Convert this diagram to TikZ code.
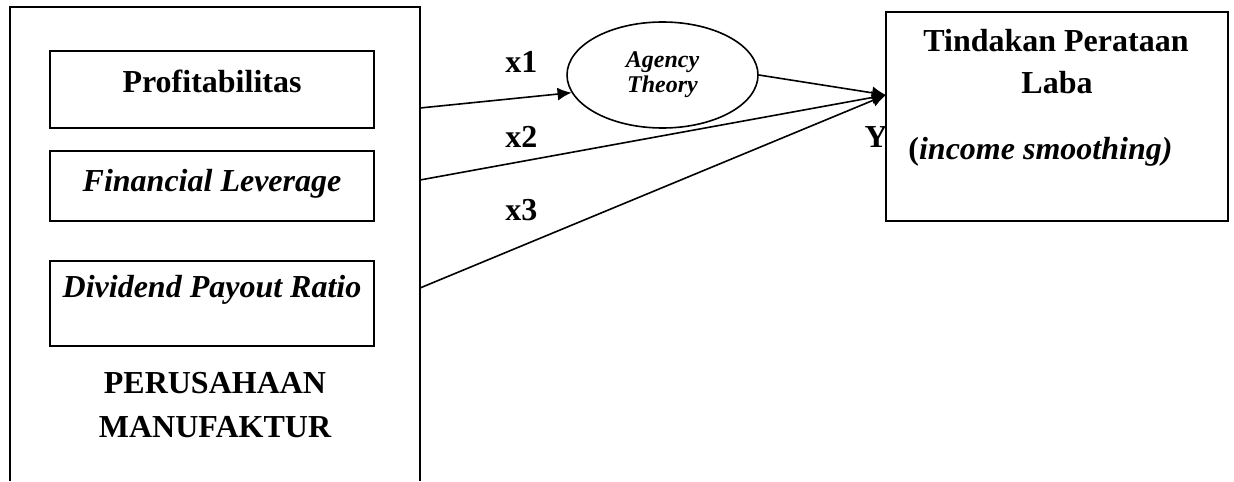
\documentclass[tikz,border=0pt]{standalone}
\usepackage{fontspec}
\setmainfont{Liberation Serif}
\usetikzlibrary{arrows.meta,shapes.geometric}

\begin{document}
\begin{tikzpicture}[x=.5pt,y=-.5pt,
 font=\fontsize{16}{22}\selectfont\bfseries,
 varbox/.style={draw,line width=1pt,minimum width=162pt,inner sep=2pt,text height=12pt},
 txt/.style={inner sep=0pt,anchor=base},
 lbl/.style={inner sep=0pt,anchor=base west},
 arr/.style={-{Latex[length=7pt,width=6.5pt]},line width=.8pt}]
\useasboundingbox (0,0) rectangle (1234,481);
% company frame, open at the bottom
\draw[line width=1pt] (10,481) -- (10,7) -- (420,7) -- (420,481);
\node[varbox,minimum height=38.5pt,text depth=9.5pt] (prof) at (212,89.5) {Profitabilitas};
\node[varbox,minimum height=35pt,text depth=7pt] (lev) at (212,186) {\itshape Financial Leverage};
\node[varbox,minimum height=42.5pt,text depth=18.5pt] (dpr) at (212,303.5) {\itshape Dividend Payout Ratio};
\node[txt] (firm1) at (215,393) {PERUSAHAAN};
\node[txt] (firm2) at (215,437) {MANUFAKTUR};
\coordinate (o1) at (420,108);
\coordinate (o2) at (420,180);
\coordinate (o3) at (420,288);
% mediating theory
\node[ellipse,draw,line width=.8pt,minimum width=95.5pt,minimum height=53pt,inner sep=0pt,
 align=center,font=\fontsize{12}{12.5}\selectfont\bfseries\itshape] (agency) at (662.5,75) {Agency\\Theory};
% dependent variable
\node[txt,anchor=base east] (ylbl) at (888,147) {Y};
\node[draw,line width=1pt,minimum width=171pt,minimum height=104.5pt] (laba) at (1057,116.5) {};
\node[txt] (laba1) at (1056,52) {Tindakan Perataan};
\node[txt] (laba2) at (1057,93) {Laba};
\node[lbl] (laba3) at (908,159) {(\textit{income smoothing)}};
\coordinate (yin) at (886,95);
\node[lbl] (x1) at (505,73) {x1};
\node[lbl] (x2) at (505,147) {x2};
\node[lbl] (x3) at (505,220) {x3};
\draw[arr] (o1) -- (agency.191);
\draw[arr] (agency.east) -- (yin);
\draw[arr] (o2) -- (yin);
\draw[arr] (o3) -- (yin);
\end{tikzpicture}
\end{document}
